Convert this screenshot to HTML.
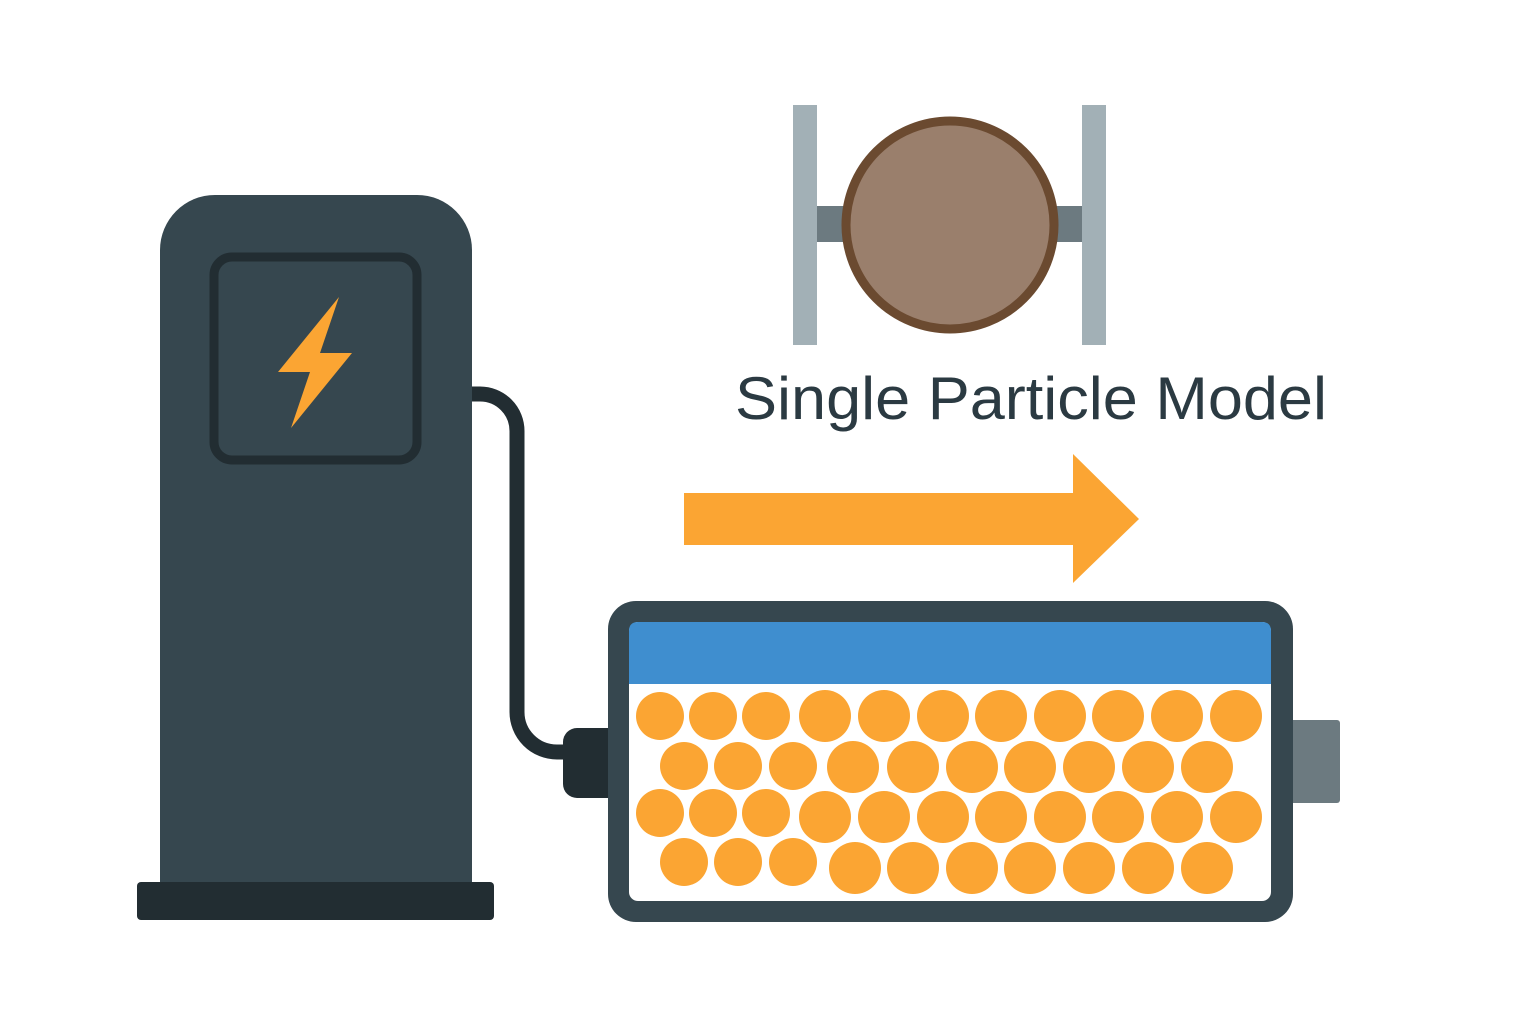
<!DOCTYPE html>
<html><head><style>body{margin:0;background:#fff}</style></head><body>
<svg width="1536" height="1024" viewBox="0 0 1536 1024" xmlns="http://www.w3.org/2000/svg">
<rect width="1536" height="1024" fill="#fff"/>
<rect x="793" y="105" width="24" height="240" fill="#a2b0b6"/>
<rect x="1082" y="105" width="24" height="240" fill="#a2b0b6"/>
<rect x="817" y="206" width="265" height="36" fill="#6c7a80"/>
<circle cx="950" cy="225" r="104" fill="#9a7f6c" stroke="#6b4a30" stroke-width="9"/>
<text x="1031" y="419" text-anchor="middle" font-family="Liberation Sans, sans-serif" font-size="60" fill="#2b3a42" textLength="592" lengthAdjust="spacingAndGlyphs">Single Particle Model</text>
<polygon points="684,493 1073,493 1073,454 1139,519 1073,583 1073,545 684,545" fill="#fba533"/>
<path d="M470,394 H480 A37,37 0 0 1 517,431 V712 A40,40 0 0 0 557,752 H570" fill="none" stroke="#222d32" stroke-width="15"/>
<rect x="563" y="728" width="60" height="70" rx="14" fill="#222d32"/>
<path d="M160,885 V250 A55,55 0 0 1 215,195 H417 A55,55 0 0 1 472,250 V885 Z" fill="#36474f"/>
<rect x="137" y="882" width="357" height="38" rx="4" fill="#222d32"/>
<rect x="214" y="257" width="203" height="203" rx="18" fill="#36474f" stroke="#222d32" stroke-width="9"/>
<polygon points="339,297 278,372 310,372 291,428 352,353 320,353" fill="#fba533"/>
<rect x="1290" y="720" width="50" height="83" rx="3" fill="#6c7a80"/>
<rect x="608" y="601" width="685" height="321" rx="28" fill="#36474f"/>
<rect x="629" y="622" width="642" height="279" rx="9" fill="#fff"/>
<path d="M629,684 V631 Q629,622 638,622 H1262 Q1271,622 1271,631 V684 Z" fill="#3f8ecf"/>
<g fill="#fba533">
<circle cx="660" cy="716" r="24"/><circle cx="713" cy="716" r="24"/><circle cx="766" cy="716" r="24"/><circle cx="825" cy="716" r="26"/><circle cx="884" cy="716" r="26"/><circle cx="943" cy="716" r="26"/><circle cx="1001" cy="716" r="26"/><circle cx="1060" cy="716" r="26"/><circle cx="1118" cy="716" r="26"/><circle cx="1177" cy="716" r="26"/><circle cx="1236" cy="716" r="26"/>
<circle cx="684" cy="766" r="24"/><circle cx="738" cy="766" r="24"/><circle cx="793" cy="766" r="24"/><circle cx="853" cy="767" r="26"/><circle cx="913" cy="767" r="26"/><circle cx="972" cy="767" r="26"/><circle cx="1030" cy="767" r="26"/><circle cx="1089" cy="767" r="26"/><circle cx="1148" cy="767" r="26"/><circle cx="1207" cy="767" r="26"/>
<circle cx="660" cy="813" r="24"/><circle cx="713" cy="813" r="24"/><circle cx="766" cy="813" r="24"/><circle cx="825" cy="817" r="26"/><circle cx="884" cy="817" r="26"/><circle cx="943" cy="817" r="26"/><circle cx="1001" cy="817" r="26"/><circle cx="1060" cy="817" r="26"/><circle cx="1118" cy="817" r="26"/><circle cx="1177" cy="817" r="26"/><circle cx="1236" cy="817" r="26"/>
<circle cx="684" cy="862" r="24"/><circle cx="738" cy="862" r="24"/><circle cx="793" cy="862" r="24"/><circle cx="855" cy="868" r="26"/><circle cx="913" cy="868" r="26"/><circle cx="972" cy="868" r="26"/><circle cx="1030" cy="868" r="26"/><circle cx="1089" cy="868" r="26"/><circle cx="1148" cy="868" r="26"/><circle cx="1207" cy="868" r="26"/>
</g>
</svg>
</body></html>
